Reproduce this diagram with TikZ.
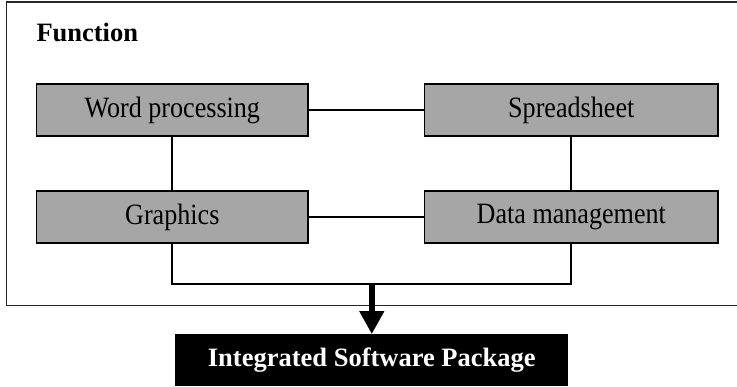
\documentclass[tikz,border=0pt]{standalone}
\usepackage{fontspec}
\setmainfont[FakeStretch=0.885]{Liberation Serif}
\newfontfamily\headfont{Liberation Serif}
\usepackage{tikz}
\usetikzlibrary{positioning,calc,arrows.meta}
\definecolor{boxgray}{RGB}{166,166,166}
\begin{document}
\begin{tikzpicture}[x=1pt, y=1pt, node distance=399pt, font=\fontsize{29.5}{34}\selectfont]
    \tikzstyle{func} = [draw, rectangle, fill=boxgray, line width=1.3pt, minimum height=52pt, text centered]
    \tikzstyle{pkg} = [rectangle, fill=black, text=white, font=\headfont\fontsize{26.5}{30}\selectfont\bfseries, minimum width=393pt, minimum height=52pt, text centered]
    \tikzstyle{line} = [line width=2pt]
    \tikzstyle{arrow} = [line width=5.6pt, -{Triangle[length=23pt, width=23.5pt]}]
    \useasboundingbox (0,0) rectangle (737,-387);
    % frame, open to the right
    \draw [line width=1.8pt, black!85] (745,-1.7) -- (6.5,-1.7) -- (6.5,-305.5) -- (745,-305.5);
    \node (title) [anchor=base west, inner sep=0pt, font=\headfont\fontsize{26.5}{30}\selectfont\bfseries] at (36.3,-41.5) {Function};
    \node (word) [func, minimum width=271.5pt] at (172.3,-110) {Word processing};
    \node (sheet) [func, minimum width=293.3pt, right of=word] {Spreadsheet};
    \node (gfx) [func, minimum width=271.5pt, below of=word, node distance=107pt] {Graphics};
    \node (data) [func, minimum width=293.3pt, below of=sheet, node distance=107pt] {Data management};
    \coordinate (merge) at ($(gfx.south)!0.5!(data.south) + (0,-40)$);
    \node (pkg) [pkg, below of=merge, node distance=76.7pt] {Integrated Software Package};

    \draw [line] (word) -- (sheet);
    \draw [line] (gfx) -- (data);
    \draw [line] (word) -- (gfx);
    \draw [line] (sheet) -- (data);
    \draw [line] (gfx.south) |- (merge) -| (data.south);
    \draw [arrow] (merge) -- (pkg.north);
\end{tikzpicture}
\end{document}
